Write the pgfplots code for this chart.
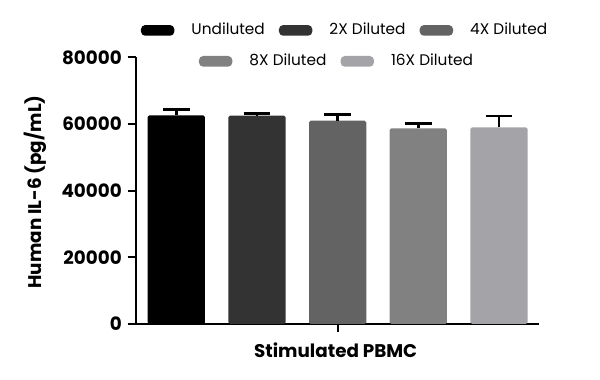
\documentclass[border=0pt]{standalone}
\usepackage{pgfplots}
\pgfplotsset{compat=1.18}
\usepackage{fontspec}
\setmainfont{Poppins}
\definecolor{c1}{HTML}{000000}
\definecolor{c2}{HTML}{333333}
\definecolor{c3}{HTML}{636363}
\definecolor{c4}{HTML}{818181}
\definecolor{c5}{HTML}{A4A3A7}
\pgfplotsset{
  legimg/.style={legend image code/.code={\fill[##1, draw=none, rounded corners=2.5pt] (0pt,-3.2pt) rectangle (20pt,3.2pt);}},
  common/.style={
    scale only axis, width=242pt, height=160pt,
    xmin=0.5, xmax=5.5, ymin=0, ymax=80000,
  },
  legsty/.style={draw=none, fill=none, anchor=center,
    font=\fontsize{9.2}{11}\selectfont,
    /tikz/every odd column/.append style={column sep=8.3pt},
    /tikz/every even column/.append style={column sep=6.5pt}},
  eb/.style={draw=none, rounded corners=1pt,
    error bars/y dir=plus, error bars/y explicit,
    error bars/error bar style={line width=1.5pt, black, sharp corners},
    error bars/error mark options={rotate=90, mark size=8pt, line width=1.5pt, black}}
}
\begin{document}
\begin{tikzpicture}
\useasboundingbox (-81.6pt,-33.6pt) rectangle (278.4pt,194.4pt);
\begin{axis}[common,
  axis lines*=left,
  axis line style={line width=1.3pt},
  ytick={0,20000,40000,60000,80000},
  xtick={3}, xticklabels={},
  tick style={line width=1.3pt, black},
  tick align=outside,
  major tick length=5pt,
  scaled y ticks=false,
  yticklabel style={/pgf/number format/.cd, fixed, set thousands separator={}, assume math mode=true},
  ticklabel style={font=\bfseries\fontsize{11}{13}\selectfont},
  ylabel={\bfseries Human IL-6 (pg/mL)},
  every axis y label/.style={at={(axis description cs:-0.25,0.495)}, rotate=90, anchor=center, font=\fontsize{11}{13}\selectfont},
  xlabel={\bfseries Stimulated PBMC},
  every axis x label/.style={at={(axis description cs:0.495,-0.0975)}, anchor=center, font=\fontsize{11}{13}\selectfont},
  ybar, bar shift=0pt, bar width=0.71,
  legimg,
  legend style={legsty, legend columns=3, at={(0.52,1.101)}},
]
\addplot[fill=c1, eb] coordinates {(1,62600) +- (0,1800)};
\addlegendentry{Undiluted}
\addplot[fill=c2, eb] coordinates {(2,62500) +- (0,600)};
\addlegendentry{2X Diluted}
\addplot[fill=c3, eb] coordinates {(3,61000) +- (0,1900)};
\addlegendentry{4X Diluted}
\addplot[forget plot, fill=c4, eb] coordinates {(4,58700) +- (0,1400)};
\addplot[forget plot, fill=c5, eb] coordinates {(5,59000) +- (0,3400)};
\end{axis}
\begin{axis}[common, hide axis, legimg,
  legend style={legsty, legend columns=2, at={(0.5,0.985)}}]
\addlegendimage{draw=none, fill=c4}
\addlegendentry{8X Diluted}
\addlegendimage{draw=none, fill=c5}
\addlegendentry{16X Diluted}
\end{axis}
\end{tikzpicture}
\end{document}
